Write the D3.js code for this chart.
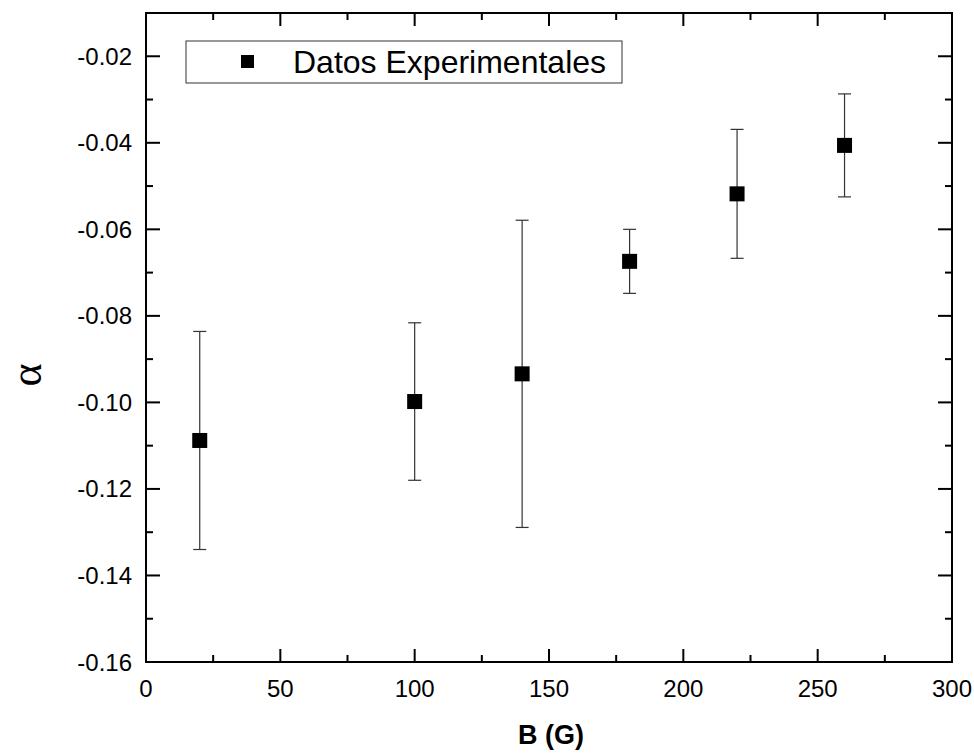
<!DOCTYPE html>
<html><head><meta charset="utf-8">
<script src="https://cdn.jsdelivr.net/npm/d3@7"></script>
<style>body{margin:0;background:#fff}</style>
</head><body>
<svg id="c" width="974" height="753"></svg>
<script>
const bValues = [20, 100, 140, 180, 220, 260];
const alphaValues = [-0.1088, -0.0998, -0.0934, -0.0674, -0.0518, -0.0406];
const alphaErrors = [0.0252, 0.0182, 0.0355, 0.0074, 0.0149, 0.0119];
const xTicks = [0, 50, 100, 150, 200, 250, 300];
const yTicks = [-0.16, -0.14, -0.12, -0.10, -0.08, -0.06, -0.04, -0.02];
const legendLabel = "Datos Experimentales";

const svg = d3.select("#c");
const L = 146, R = 952, T = 13, B = 662;
const x = d3.scaleLinear().domain([0, 300]).range([L, R]);
const y = d3.scaleLinear().domain([-0.16, -0.01]).range([B, T]);
const font = "'Liberation Sans', Arial, sans-serif";
const fmtY = v => d3.format(".2f")(v).replace("\u2212", "-");

const xMinor = d3.range(25, 300, 50);
const yMinor = d3.range(-0.15, -0.01, 0.02).map(v => +v.toFixed(3));

const g = svg.append("g");
const tick = (x1, y1, x2, y2) => g.append("line").attr("x1", x1).attr("y1", y1).attr("x2", x2).attr("y2", y2)
  .attr("stroke", "#000").attr("stroke-width", 2);
xTicks.forEach(v => { tick(x(v), B, x(v), B - 13); tick(x(v), T, x(v), T + 13); });
xMinor.forEach(v => { tick(x(v), B, x(v), B - 7); tick(x(v), T, x(v), T + 7); });
yTicks.forEach(v => { tick(L, y(v), L + 14, y(v)); tick(R, y(v), R - 14, y(v)); });
yMinor.forEach(v => { tick(L, y(v), L + 7, y(v)); tick(R, y(v), R - 7, y(v)); });

g.append("rect").attr("x", L).attr("y", T).attr("width", R - L).attr("height", B - T)
  .attr("fill", "none").attr("stroke", "#000").attr("stroke-width", 2);

xTicks.forEach(v => g.append("text").attr("x", x(v)).attr("y", B + 35).attr("text-anchor", "middle")
  .attr("font-family", font).attr("font-size", 24).text(d3.format("d")(v)));
yTicks.forEach(v => g.append("text").attr("x", L - 14).attr("y", y(v) + 8.5).attr("text-anchor", "end")
  .attr("font-family", font).attr("font-size", 24).text(fmtY(v)));

g.append("text").attr("x", (L + R) / 2 + 2).attr("y", 744).attr("text-anchor", "middle")
  .attr("font-family", font).attr("font-size", 27).attr("font-weight", "bold").text("B (G)");
g.append("text").attr("transform", "translate(41,375) rotate(-90)").attr("text-anchor", "middle")
  .attr("font-family", "'Liberation Serif', 'Times New Roman', serif").attr("font-size", 44).text("α");

const eb = g.append("g").attr("stroke", "#333").attr("stroke-width", 1.2);
bValues.forEach((b, i) => {
  const lo = alphaValues[i] - alphaErrors[i], hi = alphaValues[i] + alphaErrors[i];
  eb.append("line").attr("x1", x(b)).attr("x2", x(b)).attr("y1", y(lo)).attr("y2", y(hi));
  eb.append("line").attr("x1", x(b) - 6.5).attr("x2", x(b) + 6.5).attr("y1", y(lo)).attr("y2", y(lo));
  eb.append("line").attr("x1", x(b) - 6.5).attr("x2", x(b) + 6.5).attr("y1", y(hi)).attr("y2", y(hi));
});
g.selectAll("rect.pt").data(bValues).enter().append("rect").attr("class", "pt")
  .attr("x", d => x(d) - 7.5).attr("y", (d, i) => y(alphaValues[i]) - 7.5)
  .attr("width", 15).attr("height", 15).attr("fill", "#000");

const lg = g.append("g");
lg.append("rect").attr("x", 186).attr("y", 41).attr("width", 436).attr("height", 42)
  .attr("fill", "#fff").attr("stroke", "#333").attr("stroke-width", 1);
lg.append("rect").attr("x", 241).attr("y", 55).attr("width", 13).attr("height", 13).attr("fill", "#000");
lg.append("text").attr("x", 293).attr("y", 73).attr("font-family", font).attr("font-size", 32).text(legendLabel);
</script>
</body></html>
